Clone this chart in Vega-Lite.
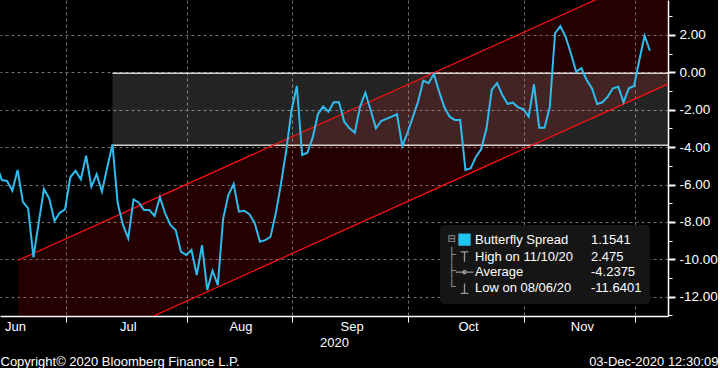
{
  "$schema": "https://vega.github.io/schema/vega-lite/v6.json",
  "width": 668,
  "height": 316,
  "padding": 0,
  "background": "#000000",
  "config": {"view": {"stroke": null}, "font": "Liberation Sans"},
  "datasets": {
    "spread": [
      {"date": "2020-06-11", "day": -14, "value": -4.9},
      {"date": "2020-06-12", "day": -13, "value": -5.76},
      {"date": "2020-06-15", "day": -12, "value": -5.81},
      {"date": "2020-06-16", "day": -11, "value": -6.33},
      {"date": "2020-06-17", "day": -10, "value": -5.22},
      {"date": "2020-06-18", "day": -9, "value": -6.92},
      {"date": "2020-06-19", "day": -8, "value": -7.27},
      {"date": "2020-06-22", "day": -7, "value": -9.89},
      {"date": "2020-06-23", "day": -6, "value": -8.05},
      {"date": "2020-06-24", "day": -5, "value": -6.24},
      {"date": "2020-06-25", "day": -4, "value": -6.74},
      {"date": "2020-06-26", "day": -3, "value": -7.95},
      {"date": "2020-06-29", "day": -2, "value": -7.51},
      {"date": "2020-06-30", "day": -1, "value": -7.33},
      {"date": "2020-07-01", "day": 0, "value": -5.61},
      {"date": "2020-07-02", "day": 1, "value": -5.26},
      {"date": "2020-07-03", "day": 2, "value": -5.72},
      {"date": "2020-07-06", "day": 3, "value": -4.46},
      {"date": "2020-07-07", "day": 4, "value": -6.12},
      {"date": "2020-07-08", "day": 5, "value": -5.45},
      {"date": "2020-07-09", "day": 6, "value": -6.38},
      {"date": "2020-07-10", "day": 7, "value": -5.1},
      {"date": "2020-07-13", "day": 8, "value": -3.85},
      {"date": "2020-07-14", "day": 9, "value": -7.0},
      {"date": "2020-07-15", "day": 10, "value": -8.16},
      {"date": "2020-07-16", "day": 11, "value": -8.88},
      {"date": "2020-07-17", "day": 12, "value": -6.79},
      {"date": "2020-07-20", "day": 13, "value": -6.97},
      {"date": "2020-07-21", "day": 14, "value": -7.36},
      {"date": "2020-07-22", "day": 15, "value": -7.36},
      {"date": "2020-07-23", "day": 16, "value": -7.68},
      {"date": "2020-07-24", "day": 17, "value": -6.68},
      {"date": "2020-07-27", "day": 18, "value": -7.54},
      {"date": "2020-07-28", "day": 19, "value": -8.16},
      {"date": "2020-07-29", "day": 20, "value": -8.43},
      {"date": "2020-07-30", "day": 21, "value": -9.59},
      {"date": "2020-07-31", "day": 22, "value": -9.77},
      {"date": "2020-08-03", "day": 23, "value": -9.5},
      {"date": "2020-08-04", "day": 24, "value": -10.84},
      {"date": "2020-08-05", "day": 25, "value": -9.24},
      {"date": "2020-08-06", "day": 26, "value": -11.64},
      {"date": "2020-08-07", "day": 27, "value": -10.61},
      {"date": "2020-08-10", "day": 28, "value": -11.38},
      {"date": "2020-08-11", "day": 29, "value": -7.85},
      {"date": "2020-08-12", "day": 30, "value": -6.56},
      {"date": "2020-08-13", "day": 31, "value": -5.97},
      {"date": "2020-08-14", "day": 32, "value": -7.45},
      {"date": "2020-08-17", "day": 33, "value": -7.4},
      {"date": "2020-08-18", "day": 34, "value": -7.58},
      {"date": "2020-08-19", "day": 35, "value": -8.07},
      {"date": "2020-08-20", "day": 36, "value": -9.06},
      {"date": "2020-08-21", "day": 37, "value": -8.97},
      {"date": "2020-08-24", "day": 38, "value": -8.79},
      {"date": "2020-08-25", "day": 39, "value": -7.54},
      {"date": "2020-08-26", "day": 40, "value": -5.94},
      {"date": "2020-08-27", "day": 41, "value": -4.15},
      {"date": "2020-08-28", "day": 42, "value": -2.01},
      {"date": "2020-09-01", "day": 43, "value": -0.73},
      {"date": "2020-09-02", "day": 44, "value": -4.42},
      {"date": "2020-09-03", "day": 45, "value": -4.3},
      {"date": "2020-09-04", "day": 46, "value": -3.49},
      {"date": "2020-09-07", "day": 47, "value": -2.24},
      {"date": "2020-09-08", "day": 48, "value": -1.83},
      {"date": "2020-09-09", "day": 49, "value": -2.1},
      {"date": "2020-09-10", "day": 50, "value": -1.6},
      {"date": "2020-09-11", "day": 51, "value": -1.6},
      {"date": "2020-09-14", "day": 52, "value": -2.64},
      {"date": "2020-09-15", "day": 53, "value": -2.99},
      {"date": "2020-09-16", "day": 54, "value": -3.23},
      {"date": "2020-09-17", "day": 55, "value": -1.83},
      {"date": "2020-09-18", "day": 56, "value": -1.09},
      {"date": "2020-09-21", "day": 57, "value": -2.01},
      {"date": "2020-09-22", "day": 58, "value": -2.99},
      {"date": "2020-09-23", "day": 59, "value": -2.6},
      {"date": "2020-09-24", "day": 60, "value": -2.49},
      {"date": "2020-09-25", "day": 61, "value": -2.37},
      {"date": "2020-09-28", "day": 62, "value": -2.24},
      {"date": "2020-09-29", "day": 63, "value": -3.94},
      {"date": "2020-09-30", "day": 64, "value": -3.23},
      {"date": "2020-10-01", "day": 65, "value": -2.4},
      {"date": "2020-10-02", "day": 66, "value": -1.57},
      {"date": "2020-10-05", "day": 67, "value": -0.44},
      {"date": "2020-10-06", "day": 68, "value": -0.58},
      {"date": "2020-10-07", "day": 69, "value": -0.09},
      {"date": "2020-10-08", "day": 70, "value": -1.03},
      {"date": "2020-10-09", "day": 71, "value": -1.87},
      {"date": "2020-10-12", "day": 72, "value": -2.37},
      {"date": "2020-10-13", "day": 73, "value": -2.55},
      {"date": "2020-10-14", "day": 74, "value": -2.55},
      {"date": "2020-10-15", "day": 75, "value": -5.22},
      {"date": "2020-10-16", "day": 76, "value": -5.13},
      {"date": "2020-10-19", "day": 77, "value": -4.51},
      {"date": "2020-10-20", "day": 78, "value": -4.1},
      {"date": "2020-10-21", "day": 79, "value": -2.99},
      {"date": "2020-10-22", "day": 80, "value": -0.92},
      {"date": "2020-10-23", "day": 81, "value": -0.58},
      {"date": "2020-10-26", "day": 82, "value": -1.21},
      {"date": "2020-10-27", "day": 83, "value": -1.69},
      {"date": "2020-10-28", "day": 84, "value": -1.62},
      {"date": "2020-10-29", "day": 85, "value": -1.87},
      {"date": "2020-10-30", "day": 86, "value": -1.97},
      {"date": "2020-11-02", "day": 87, "value": -2.37},
      {"date": "2020-11-03", "day": 88, "value": -0.64},
      {"date": "2020-11-04", "day": 89, "value": -2.96},
      {"date": "2020-11-05", "day": 90, "value": -2.96},
      {"date": "2020-11-06", "day": 91, "value": -1.87},
      {"date": "2020-11-09", "day": 92, "value": 2.09},
      {"date": "2020-11-10", "day": 93, "value": 2.475},
      {"date": "2020-11-11", "day": 94, "value": 1.91},
      {"date": "2020-11-12", "day": 95, "value": 1.02},
      {"date": "2020-11-13", "day": 96, "value": 0.04},
      {"date": "2020-11-16", "day": 97, "value": 0.22},
      {"date": "2020-11-17", "day": 98, "value": -0.41},
      {"date": "2020-11-18", "day": 99, "value": -0.85},
      {"date": "2020-11-19", "day": 100, "value": -1.69},
      {"date": "2020-11-20", "day": 101, "value": -1.6},
      {"date": "2020-11-23", "day": 102, "value": -1.3},
      {"date": "2020-11-24", "day": 103, "value": -0.85},
      {"date": "2020-11-25", "day": 104, "value": -0.77},
      {"date": "2020-11-26", "day": 105, "value": -1.6},
      {"date": "2020-11-27", "day": 106, "value": -0.85},
      {"date": "2020-11-30", "day": 107, "value": -0.73},
      {"date": "2020-12-01", "day": 108, "value": 0.66},
      {"date": "2020-12-02", "day": 109, "value": 1.96},
      {"date": "2020-12-03", "day": 110, "value": 1.1541}
    ],
    "channel": [
      {"day": -9.9, "lower": -16.3, "upper": -10.05},
      {"day": 114, "lower": -0.55, "upper": 5.7}
    ],
    "range": [
      {"start": 8, "end": 114, "low": -3.9, "high": -0.05}
    ]
  },
  "resolve": {"axis": {"x": "independent", "y": "independent"}},
  "layer": [
    {
      "data": {"name": "channel"},
      "mark": {"type": "area", "clip": true, "color": "#ff0000", "opacity": 0.14},
      "encoding": {
        "x": {
          "field": "day", "type": "quantitative",
          "scale": {"domain": [-13.34, 113.44], "nice": false, "zero": false},
          "axis": {
            "orient": "bottom", "values": [-0.9, 22.1, 42.1, 64.1, 86.1, 107.1],
            "labels": false, "ticks": true, "tickSize": 6, "tickColor": "#ffffff", "tickWidth": 1,
            "grid": true, "gridColor": "#707070", "gridDash": [3, 3], "gridWidth": 1,
            "domain": true, "domainColor": "#ffffff", "domainWidth": 1.5,
            "title": "Copyright© 2020 Bloomberg Finance L.P.",
            "titleFont": "Liberation Sans", "titleFontSize": 13, "titleFontWeight": "normal", "titleColor": "#ffffff",
            "titleAnchor": "start", "titleAlign": "left", "titleBaseline": "alphabetic", "titleX": 0, "titleY": 49
          }
        },
        "y": {
          "field": "lower", "type": "quantitative",
          "scale": {"domain": [-13.03, 3.87], "nice": false, "zero": false},
          "axis": {
            "orient": "right", "values": [-13, -11, -9, -7, -5, -3, -1, 1, 3],
            "labels": false, "ticks": true, "tickSize": 4, "tickColor": "#ffffff", "tickWidth": 1,
            "grid": false, "domain": true, "domainColor": "#ffffff", "domainWidth": 1.5,
            "title": "03-Dec-2020 12:30:09",
            "titleFont": "Liberation Sans", "titleFontSize": 13, "titleFontWeight": "normal", "titleColor": "#ffffff",
            "titleAngle": 0, "titleAlign": "right", "titleBaseline": "alphabetic", "titleX": 50, "titleY": 365
          }
        },
        "y2": {"field": "upper"}
      }
    },
    {
      "data": {"name": "range"},
      "mark": {"type": "rect", "clip": true, "color": "#ffffff", "opacity": 0.14},
      "encoding": {
        "x": {
          "field": "start", "type": "quantitative",
          "axis": {
            "orient": "bottom", "values": [-10.5, 10.9, 32.3, 53.4, 75.5, 97.1],
            "labelExpr": "datum.value < 0 ? 'Jun' : datum.value < 20 ? 'Jul' : datum.value < 40 ? 'Aug' : datum.value < 60 ? 'Sep' : datum.value < 80 ? 'Oct' : 'Nov'",
            "ticks": false, "tickSize": 0, "domain": false, "grid": false,
            "labelFont": "Liberation Sans", "labelFontSize": 13, "labelColor": "#ffffff",
            "labelBaseline": "alphabetic", "labelPadding": 14.5, "labelFlush": false, "labelOverlap": false,
            "title": "2020", "titleFont": "Liberation Sans", "titleFontSize": 13, "titleFontWeight": "normal", "titleColor": "#ffffff",
            "titleBaseline": "alphabetic", "titleY": 30.5
          }
        },
        "x2": {"field": "end"},
        "y": {
          "field": "low", "type": "quantitative",
          "axis": {
            "orient": "right", "values": [-12, -10, -8, -6, -4, -2, 0, 2],
            "labelExpr": "(datum.value < 0 ? '-' : '') + format(abs(datum.value), '.2f')",
            "ticks": true, "tickSize": 7, "tickWidth": 2, "tickColor": "#ffffff",
            "grid": true, "gridColor": "#707070", "gridDash": [3, 3], "gridWidth": 1,
            "domain": false,
            "labelFont": "Liberation Sans", "labelFontSize": 13.5, "labelColor": "#ffffff", "labelPadding": 4,
            "labelFlush": false, "labelOverlap": false, "title": null
          }
        },
        "y2": {"field": "high"}
      }
    },
    {
      "data": {"name": "range"},
      "mark": {"type": "rule", "clip": true, "color": "#ffffff", "opacity": 0.8, "strokeWidth": 1.5},
      "encoding": {
        "x": {"field": "start", "type": "quantitative", "axis": null},
        "x2": {"field": "end"},
        "y": {"field": "high", "type": "quantitative", "axis": null}
      }
    },
    {
      "data": {"name": "range"},
      "mark": {"type": "rule", "clip": true, "color": "#ffffff", "opacity": 0.8, "strokeWidth": 1.5},
      "encoding": {
        "x": {"field": "start", "type": "quantitative", "axis": null},
        "x2": {"field": "end"},
        "y": {"field": "low", "type": "quantitative", "axis": null}
      }
    },
    {
      "data": {"name": "channel"},
      "mark": {"type": "line", "clip": true, "color": "#ff1010", "strokeWidth": 1.2},
      "encoding": {
        "x": {"field": "day", "type": "quantitative", "axis": null},
        "y": {"field": "upper", "type": "quantitative", "axis": null}
      }
    },
    {
      "data": {"name": "channel"},
      "mark": {"type": "line", "clip": true, "color": "#ff1010", "strokeWidth": 1.2},
      "encoding": {
        "x": {"field": "day", "type": "quantitative", "axis": null},
        "y": {"field": "lower", "type": "quantitative", "axis": null}
      }
    },
    {
      "data": {"name": "spread"},
      "mark": {"type": "line", "clip": true, "strokeWidth": 2},
      "encoding": {
        "x": {"field": "day", "type": "quantitative", "axis": null},
        "y": {"field": "value", "type": "quantitative", "axis": null},
        "color": {
          "datum": "Butterfly Spread", "type": "nominal",
          "scale": {
            "domain": ["Butterfly Spread", "High on 11/10/20", "Average", "Low on 08/06/20", "1.1541", "2.475", "-4.2375", "-11.6401"],
            "range": ["#2ebdee", "#9a9a9a", "#9a9a9a", "#9a9a9a", "#000000", "#000000", "#000000", "#000000"]
          },
          "legend": {
            "title": ["⊟", "├", "├", "└"],
            "titleOrient": "left", "titleAnchor": "start", "titleBaseline": "top",
            "titleFont": "DejaVu Sans Mono", "titleFontSize": 13, "titleFontWeight": "normal",
            "titleColor": "#8c8c8c", "titleLineHeight": 16, "titlePadding": 2,
            "orient": "none", "legendX": 440, "legendY": 225,
            "columns": 2, "columnPadding": 0, "rowPadding": 0.3, "padding": 8,
            "fillColor": "#151515", "cornerRadius": 4,
            "symbolSize": 121, "symbolType": "square", "symbolStrokeWidth": 1.3,
            "labelFont": "Liberation Sans", "labelFontSize": 13, "labelColor": "#ffffff",
            "labelOffset": 4, "labelLimit": 200,
            "encoding": {
              "symbols": {
                "shape": {"value": {"expr": "datum.value === 'Butterfly Spread' ? 'square' : datum.value === 'High on 11/10/20' ? 'M-0.7,-0.9H0.7M0,-0.9V0.9' : datum.value === 'Average' ? 'M-1.6,0H1.6M0.3,0A0.3,0.3 0 1 1 -0.3,0A0.3,0.3 0 1 1 0.3,0' : 'M0,-0.9V0.9M-0.7,0.9H0.7'"}},
                "fill": {"value": {"expr": "datum.value === 'Butterfly Spread' ? '#1ec8f0' : 'transparent'"}},
                "stroke": {"value": {"expr": "datum.value === 'Butterfly Spread' ? 'transparent' : '#9a9a9a'"}},
                "opacity": {"value": {"expr": "indexof(['1.1541','2.475','-4.2375','-11.6401'], datum.value) >= 0 ? 0 : 1"}}
              }
            },
            "encode": {
              "symbols": {
                "update": {
                  "shape": {"signal": "datum.value === 'Butterfly Spread' ? 'square' : datum.value === 'High on 11/10/20' ? 'M-0.7,-0.9H0.7M0,-0.9V0.9' : datum.value === 'Average' ? 'M-1.6,0H1.6M0.3,0A0.3,0.3 0 1 1 -0.3,0A0.3,0.3 0 1 1 0.3,0' : 'M0,-0.9V0.9M-0.7,0.9H0.7'"},
                  "fill": {"signal": "datum.value === 'Butterfly Spread' ? '#1ec8f0' : 'transparent'"},
                  "stroke": {"signal": "datum.value === 'Butterfly Spread' ? 'transparent' : '#9a9a9a'"},
                  "opacity": {"signal": "indexof(['1.1541','2.475','-4.2375','-11.6401'], datum.value) >= 0 ? 0 : 1"}
                }
              }
            }
          }
        }
      }
    }
  ]
}
